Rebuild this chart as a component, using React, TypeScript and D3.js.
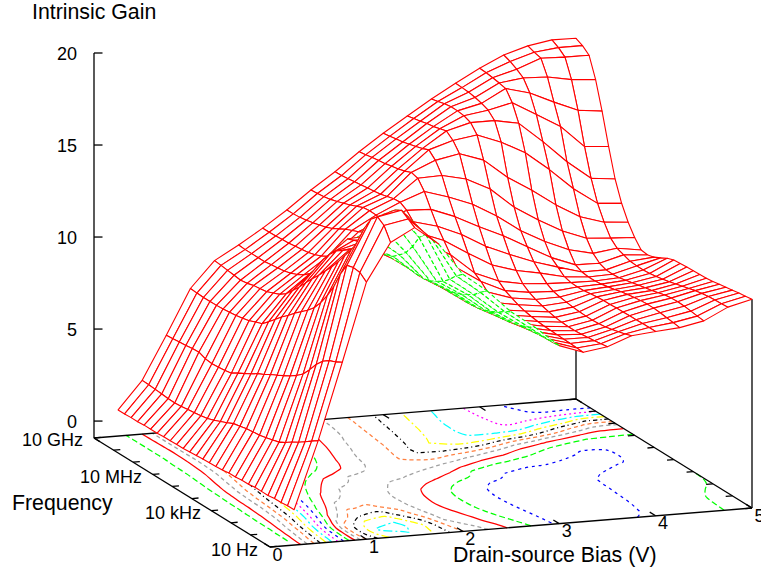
import React from 'react';
import * as d3 from 'd3';

// drain-source bias of each surface column (V)
const biasValues = [0.25, 0.5, 0.75, 1, 1.25, 1.5, 1.75, 2, 2.25, 2.5, 2.75, 3, 3.25, 3.5, 3.75, 4, 4.25, 4.5, 4.75, 5];
// log10 of frequency for each surface row, three points per decade
const freqDecades = [
  1, 1.333, 1.667, 2, 2.333, 2.667, 3, 3.333, 3.667, 4, 4.333, 4.667, 5, 5.333,
  5.667, 6, 6.333, 6.667, 7, 7.333, 7.667, 8, 8.333, 8.667, 9, 9.333, 9.667, 10,
];

// intrinsic gain, one list per bias column, low to high frequency
const gainByBias = [
  [1.0, 1.0, 0.95, 0.95, 0.9, 0.9, 0.9, 0.85, 0.85, 0.8, 0.8, 0.75, 0.72, 0.7, 0.68, 0.65, 0.63, 0.6, 0.6, 0.58, 0.58, 0.55, 0.55, 0.55, 0.52, 0.52, 0.5, 0.5],
  [4.65, 4.4, 4.15, 3.9, 3.7, 3.45, 3.25, 3.15, 3.05, 2.97, 2.93, 2.88, 2.8, 2.72, 2.55, 2.4, 2.25, 2.12, 2.05, 2.0, 1.95, 1.9, 1.87, 1.88, 1.92, 1.95, 1.98, 2.0],
  [8.8, 8.6, 8.45, 8.2, 7.8, 7.3, 6.85, 6.55, 6.3, 6.1, 5.9, 5.72, 5.5, 5.33, 5.1, 4.9, 4.7, 4.48, 4.4, 4.36, 4.33, 4.38, 4.52, 4.5, 4.45, 4.42, 4.38, 4.35],
  [13.05, 13.35, 13.4, 13.3, 12.6, 11.7, 11.0, 10.4, 9.9, 9.55, 9.25, 8.95, 8.6, 8.3, 7.95, 7.6, 7.28, 7.15, 7.0, 6.92, 6.85, 6.8, 6.76, 6.74, 6.73, 6.73, 6.75, 6.78],
  [15.1, 15.8, 16.05, 15.7, 15.0, 14.0, 13.4, 12.85, 12.3, 11.8, 11.35, 10.9, 10.5, 10.05, 9.6, 9.2, 8.8, 8.55, 8.4, 8.25, 8.2, 8.15, 8.05, 8.0, 8.05, 8.1, 8.15, 8.19],
  [15.8, 16.05, 16.3, 16.1, 15.6, 14.7, 13.9, 13.2, 12.85, 12.6, 12.4, 12.15, 11.9, 11.5, 11.0, 10.3, 9.8, 9.5, 9.3, 9.15, 9.05, 9.0, 8.95, 8.9, 8.9, 8.9, 8.9, 8.93],
  [14.8, 14.85, 14.9, 14.5, 13.8, 13.25, 12.9, 12.6, 12.45, 12.35, 12.3, 12.3, 12.25, 12.15, 12.0, 11.3, 10.7, 10.4, 10.2, 10.05, 9.95, 9.9, 9.85, 9.8, 9.78, 9.75, 9.74, 9.74],
  [13.05, 12.75, 12.35, 12.0, 11.8, 11.6, 11.5, 11.5, 11.55, 11.65, 11.8, 11.95, 12.05, 12.1, 12.1, 12.03, 11.85, 11.7, 11.55, 11.35, 11.15, 11.0, 10.9, 10.8, 10.72, 10.66, 10.63, 10.62],
  [12.05, 11.75, 11.4, 11.2, 11.0, 10.85, 10.75, 10.7, 10.72, 10.8, 10.97, 11.3, 11.75, 12.05, 12.2, 12.3, 12.38, 12.43, 12.45, 12.4, 12.25, 12.1, 11.98, 11.85, 11.75, 11.68, 11.63, 11.6],
  [10.8, 10.6, 10.35, 10.15, 10.02, 9.9, 9.85, 9.83, 9.85, 9.95, 10.2, 10.6, 11.1, 11.6, 12.0, 12.4, 12.8, 13.02, 13.0, 12.9, 12.8, 12.75, 12.7, 12.65, 12.6, 12.55, 12.5, 12.49],
  [9.85, 9.65, 9.5, 9.38, 9.28, 9.22, 9.18, 9.16, 9.17, 9.22, 9.4, 9.85, 10.45, 10.95, 11.5, 12.05, 12.75, 13.5, 14.0, 14.1, 13.95, 13.85, 13.78, 13.7, 13.65, 13.6, 13.52, 13.47],
  [8.75, 8.72, 8.7, 8.68, 8.65, 8.63, 8.62, 8.62, 8.66, 8.72, 8.9, 9.25, 9.6, 9.85, 10.7, 11.5, 12.25, 13.1, 14.05, 14.65, 15.0, 14.85, 14.75, 14.65, 14.55, 14.5, 14.42, 14.37],
  [8.28, 8.3, 8.32, 8.33, 8.35, 8.37, 8.38, 8.42, 8.47, 8.55, 8.67, 8.82, 9.0, 9.3, 9.95, 10.75, 11.6, 12.6, 13.75, 14.9, 15.4, 15.7, 15.6, 15.5, 15.45, 15.35, 15.28, 15.2],
  [8.48, 8.42, 8.37, 8.32, 8.28, 8.25, 8.25, 8.27, 8.32, 8.4, 8.5, 8.63, 8.8, 9.05, 9.55, 10.2, 11.0, 11.85, 13.1, 14.45, 15.6, 16.05, 16.2, 16.25, 16.25, 16.2, 16.1, 16.02],
  [8.97, 8.85, 8.75, 8.65, 8.57, 8.53, 8.5, 8.5, 8.52, 8.55, 8.6, 8.66, 8.75, 8.95, 9.3, 9.7, 10.3, 10.95, 12.0, 13.4, 15.1, 16.05, 16.4, 16.55, 16.65, 16.72, 16.75, 16.77],
  [9.09, 9.09, 9.09, 9.08, 9.07, 9.06, 9.05, 9.03, 9.02, 9.0, 8.95, 8.9, 8.88, 8.9, 9.0, 9.3, 9.6, 10.25, 11.2, 12.6, 14.42, 15.8, 16.7, 17.25, 17.33, 17.4, 17.45, 17.48],
  [9.2, 9.25, 9.3, 9.35, 9.38, 9.38, 9.35, 9.3, 9.25, 9.17, 9.08, 9.0, 8.93, 8.88, 8.88, 8.93, 9.1, 9.7, 10.5, 11.7, 13.4, 14.7, 15.95, 16.9, 17.5, 17.75, 17.95, 18.09],
  [9.46, 9.5, 9.55, 9.6, 9.62, 9.6, 9.55, 9.45, 9.35, 9.28, 9.2, 9.12, 9.03, 8.95, 8.92, 8.94, 9.08, 9.4, 10.0, 10.95, 12.25, 13.5, 15.2, 16.3, 17.45, 18.25, 18.35, 18.48],
  [10.1, 10.07, 10.05, 10.02, 9.97, 9.9, 9.8, 9.7, 9.6, 9.5, 9.42, 9.35, 9.3, 9.27, 9.27, 9.3, 9.43, 9.57, 9.9, 10.55, 11.35, 12.5, 14.0, 15.75, 17.2, 18.2, 18.5, 18.7],
  [10.42, 10.37, 10.32, 10.26, 10.2, 10.14, 10.07, 10.03, 10.01, 10.0, 9.98, 9.95, 9.92, 9.8, 9.6, 9.42, 9.32, 9.37, 9.83, 10.44, 11.25, 12.35, 13.9, 15.6, 17.1, 18.2, 18.5, 18.68],
];

const zTicks = [0, 5, 10, 15, 20];
const xTicks = [0, 1, 2, 3, 4, 5];
const freqTicks = [1, 2, 3, 4, 5, 6, 7, 8, 9, 10];
const freqLabels = [
  { decade: 1, text: '10 Hz', right: 258, y: 556 },
  { decade: 4, text: '10 kHz', right: 201, y: 519 },
  { decade: 7, text: '10 MHz', right: 142, y: 483 },
  { decade: 10, text: '10 GHz', right: 83, y: 446 },
];

// contour levels with the gnuplot line type each one gets
const contourLevels = [
  { level: 1, color: '#00ff00', dash: '6,3' },
  { level: 2, color: '#ff0000', dash: '' },
  { level: 3, color: '#a0a0a0', dash: '4,3' },
  { level: 4, color: '#ff8040', dash: '4,3' },
  { level: 5, color: '#000000', dash: '4,3,1,3' },
  { level: 6, color: '#ffff00', dash: '8,3,2,3' },
  { level: 7, color: '#00ffff', dash: '9,3,2,3' },
  { level: 8, color: '#ff00ff', dash: '2,3' },
  { level: 9, color: '#0000ff', dash: '3,4' },
  { level: 10, color: '#00ff00', dash: '6,3' },
  { level: 11, color: '#ff0000', dash: '' },
  { level: 12, color: '#a0a0a0', dash: '4,3' },
  { level: 13, color: '#ff8040', dash: '4,3' },
  { level: 14, color: '#000000', dash: '4,3,1,3' },
  { level: 15, color: '#ffff00', dash: '8,3,2,3' },
  { level: 16, color: '#00ffff', dash: '9,3,2,3' },
  { level: 17, color: '#ff00ff', dash: '2,3' },
  { level: 18, color: '#0000ff', dash: '3,4' },
];

const width = 761;
const height = 570;
const font = '"Liberation Sans", Arial, sans-serif';

// the 3D view is a plain oblique projection, so each data axis gets its own pair of scales
const xToPx = d3.scaleLinear([0, 5], [0, 482]);
const xToPy = d3.scaleLinear([0, 5], [0, -39]);
const fToPx = d3.scaleLinear([1, 10], [0, -176]);
const fToPy = d3.scaleLinear([1, 10], [0, -109]);
const zToPy = d3.scaleLinear([-0.92, 20], [0, -385]);

type Pt = [number, number];

const project = (bias: number, decade: number, gain: number): Pt => [
  270 + xToPx(bias) + fToPx(decade),
  547 + xToPy(bias) + fToPy(decade) + zToPy(gain),
];
const floorZ = -0.92;
const floorPt = (bias: number, decade: number) => project(bias, decade, floorZ);

// contour coordinates come back in grid units: sample k sits at k + 0.5
const gridToBias = d3.scaleLinear(biasValues.map((_, k) => k + 0.5), biasValues);
const gridToDecade = d3.scaleLinear(freqDecades.map((_, k) => k + 0.5), freqDecades);

const nx = biasValues.length;
const ny = freqDecades.length;
const flatGain: number[] = [];
for (let j = 0; j < ny; j++) for (let i = 0; i < nx; i++) flatGain.push(gainByBias[i][j]);

const contourLine = d3.line<Pt>().curve(d3.curveCatmullRom.alpha(0.5));

// d3.contours closes its rings along the grid border, we only want the inner pieces
const contourPaths = (level: number) => {
  const shape = d3.contours().size([nx, ny]).thresholds([level])(flatGain)[0];
  const paths: string[] = [];
  const onBorder = (p: number[]) => p[0] <= 0 || p[0] >= nx || p[1] <= 0 || p[1] >= ny;
  shape.coordinates.forEach((polygon) => {
    polygon.forEach((ring) => {
      const open = ring.slice(0, -1);
      const start = open.findIndex(onBorder);
      const rotated = start < 0 ? ring : [...open.slice(start), ...open.slice(0, start), open[start]];
      let piece: Pt[] = [];
      const flush = () => {
        if (piece.length > 1) paths.push(contourLine(piece) as string);
        piece = [];
      };
      rotated.forEach((p) => {
        if (onBorder(p)) {
          flush();
        } else {
          piece.push(floorPt(gridToBias(p[0]), gridToDecade(p[1])));
        }
      });
      flush();
    });
  });
  return paths;
};

const polyPath = (pts: Pt[]) => d3.line()(pts) + 'Z';

// painter's order: far rows first, and inside a row the far (high bias) cells first
const surfaceCells = () => {
  const cells: { d: string; top: boolean; key: string }[] = [];
  for (let j = ny - 2; j >= 0; j--) {
    for (let i = nx - 2; i >= 0; i--) {
      const p0 = project(biasValues[i], freqDecades[j], gainByBias[i][j]);
      const p1 = project(biasValues[i + 1], freqDecades[j], gainByBias[i + 1][j]);
      const p2 = project(biasValues[i + 1], freqDecades[j + 1], gainByBias[i + 1][j + 1]);
      const p3 = project(biasValues[i], freqDecades[j + 1], gainByBias[i][j + 1]);
      const cross = (p2[0] - p0[0]) * (p3[1] - p1[1]) - (p2[1] - p0[1]) * (p3[0] - p1[0]);
      cells.push({ d: polyPath([p0, p1, p2, p3]), top: cross < 0, key: `${i}-${j}` });
    }
  }
  return cells;
};

const seg = (a: Pt, b: Pt) => ({ x1: a[0], y1: a[1], x2: b[0], y2: b[1] });

const App = () => {
  const axis = { stroke: '#000', strokeWidth: 1.3 };
  const cells = surfaceCells();

  return (
    <svg
      width={width}
      height={height}
      viewBox={`0 0 ${width} ${height}`}
      style={{ position: 'absolute', left: 0, top: 0, display: 'block', background: '#fff' }}
      fontFamily={font}
    >
      {/* contours on the floor */}
      <g fill="none" strokeWidth={1.25}>
        {contourLevels.map((c) =>
          contourPaths(c.level).map((d, k) => (
            <path key={`${c.level}-${k}`} d={d} stroke={c.color} strokeDasharray={c.dash || undefined} />
          ))
        )}
      </g>

      {/* floor frame, verticals and ticks */}
      <line {...seg(floorPt(0, 1), floorPt(5, 1))} {...axis} />
      <line {...seg(floorPt(0, 1), floorPt(0, 10))} {...axis} />
      <line {...seg(floorPt(5, 1), floorPt(5, 10))} {...axis} />
      <line {...seg(floorPt(0, 10), floorPt(5, 10))} {...axis} />
      <line {...seg(floorPt(0, 10), project(0, 10, 20))} {...axis} />
      <line {...seg(floorPt(5, 10), project(5, 10, gainByBias[nx - 1][ny - 1]))} {...axis} />
      <line {...seg(floorPt(5, 1), project(5, 1, gainByBias[nx - 1][0]))} {...axis} />

      {zTicks.map((t) => {
        const [x, y] = project(0, 10, t);
        return <line key={t} x1={x} y1={y} x2={x + 8.5} y2={y} {...axis} />;
      })}
      {xTicks.map((t) => (
        <g key={t}>
          <line {...seg(floorPt(t, 1), floorPt(t, 1.3))} {...axis} />
          <line {...seg(floorPt(t, 10), floorPt(t, 9.7))} {...axis} />
        </g>
      ))}
      {freqTicks.map((t) => (
        <g key={t}>
          <line {...seg(floorPt(0, t), floorPt(0.07, t))} {...axis} />
          <line {...seg(floorPt(5, t), floorPt(4.93, t))} {...axis} />
        </g>
      ))}

      {/* hidden-line surface: red on the top side, dashed green underneath */}
      <g strokeWidth={1.1} fill="#fff" strokeLinejoin="round">
        {cells.map((c) => (
          <path key={c.key} d={c.d} stroke={c.top ? '#ff0000' : '#00ff00'} strokeDasharray={c.top ? undefined : '4,2.5'} />
        ))}
      </g>

      {/* labels */}
      <g fontSize={18} fill="#000">
        {zTicks.map((t) => (
          <text key={t} x={77} y={project(0, 10, t)[1] + 6.5} textAnchor="end">
            {t}
          </text>
        ))}
        {xTicks.map((t) => {
          const [x, y] = floorPt(t, 1);
          return (
            <text key={t} x={x + 7.5} y={y + 13.5} textAnchor="middle">
              {t}
            </text>
          );
        })}
        {freqLabels.map((f) => (
          <text key={f.text} x={f.right} y={f.y} textAnchor="end">
            {f.text}
          </text>
        ))}
      </g>
      <g fontSize={21.3} fill="#000">
        <text x={32} y={19}>Intrinsic Gain</text>
        <text x={12} y={510}>Frequency</text>
        <text x={453} y={562}>Drain-source Bias (V)</text>
      </g>
    </svg>
  );
};

export default App;
